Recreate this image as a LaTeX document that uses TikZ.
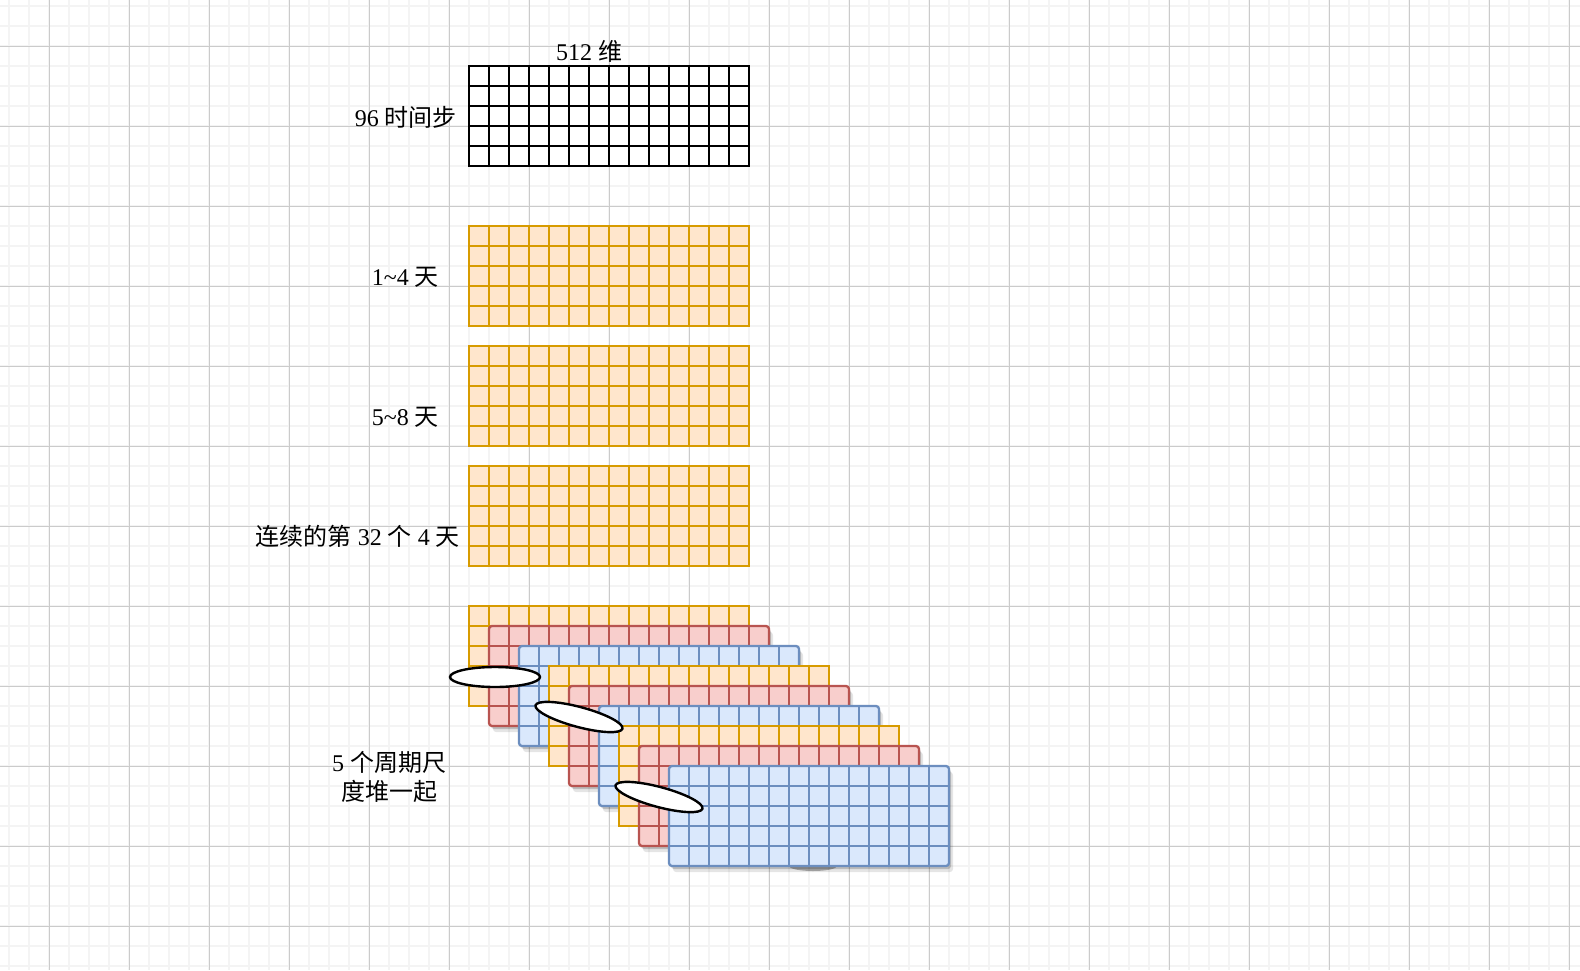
\documentclass[tikz,border=0pt]{standalone}
\usepackage{fontspec}
\setmainfont{Liberation Serif}
\newfontfamily\cjk{Noto Sans CJK SC}
\usetikzlibrary{shadows}

\definecolor{orangefond}{HTML}{FFE6CC}
\definecolor{orangetrait}{HTML}{D79B00}
\definecolor{rougefond}{HTML}{F8CECC}
\definecolor{rougetrait}{HTML}{B85450}
\definecolor{bleufond}{HTML}{DAE8FC}
\definecolor{bleutrait}{HTML}{6C8EBF}
\definecolor{grillemineure}{HTML}{F4F4F4}
\definecolor{grillemajeure}{HTML}{CBCBCB}

% une grille de 14 x 5 cases : x, y, cadre, couleur des traits
\newcommand{\grille}[4]{%
	\path[#3] (#1,#2) rectangle ++(280,100);
	\foreach \i in {1,...,13} \draw[#4] (#1+20*\i,#2) -- ++(0,100);
	\foreach \j in {1,...,4} \draw[#4] (#1,#2+20*\j) -- ++(280,0);
}

\begin{document}
\begin{tikzpicture}[x=0.5pt, y=-0.5pt, line width=1.15pt,
		every node/.style={inner sep=0pt, font=\fontsize{12}{14.5}\selectfont},
		ombre/.style={drop shadow={shadow xshift=1pt, shadow yshift=-1.5pt, opacity=0.18, fill=black},
			drop shadow={shadow xshift=2pt, shadow yshift=-3pt, opacity=0.1, fill=black}},
		noir/.style={draw=black, fill=white},
		orange/.style={draw=orangetrait, fill=orangefond},
		rouge/.style={draw=rougetrait, fill=rougefond, rounded corners=1.5pt, ombre},
		bleu/.style={draw=bleutrait, fill=bleufond, rounded corners=1.5pt, ombre},
		anneau/.style={draw=black, fill=white, line width=1.2pt}]

		\useasboundingbox (0,0) rectangle (1580,970);

		% Fond
		\fill[white] (0,0) rectangle (1580,970);
		\foreach \x in {9,29,...,1569} \draw[grillemineure, line width=1pt] (\x,0) -- (\x,970);
		\foreach \y in {6,26,...,966} \draw[grillemineure, line width=1pt] (0,\y) -- (1580,\y);
		\foreach \x in {49,129,...,1569} \draw[grillemajeure, line width=0.5pt] (\x,0) -- (\x,970);
		\foreach \y in {46,126,...,926} \draw[grillemajeure, line width=0.5pt] (0,\y) -- (1580,\y);

		% Grilles
		\grille{469}{66}{noir}{black}
		\foreach \y in {226,346,466} \grille{469}{\y}{orange}{orangetrait};

		% Empilement
		\foreach \x/\y/\cadre/\trait in {469/606/orange/orangetrait, 489/626/rouge/rougetrait,
				519/646/bleu/bleutrait, 549/666/orange/orangetrait, 569/686/rouge/rougetrait,
				599/706/bleu/bleutrait, 619/726/orange/orangetrait, 639/746/rouge/rougetrait}
			\grille{\x}{\y}{\cadre}{\trait};
		\fill[black, opacity=0.3] (813,866) ellipse (24 and 5);
		\grille{669}{766}{bleu}{bleutrait}

		% Ellipses
		\draw[anneau] (495,677) ellipse (45 and 10);
		\draw[anneau, rotate around={-15:(579,717)}] (579,717) ellipse (45 and 10);
		\draw[anneau, rotate around={-15:(659,797)}] (659,797) ellipse (45 and 10);

		% Textes
		\node at (589,51.5) (dim) {512 {\cjk 维}};
		\node[anchor=east] at (458,117.5) (pas) {96 {\cjk 时间步}};
		\node[anchor=east] at (440,277.5) (j14) {1\textasciitilde 4 {\cjk 天}};
		\node[anchor=east] at (440,417) (j58) {5\textasciitilde 8 {\cjk 天}};
		\node[anchor=east] at (461,536) (j32) {{\cjk 连续的第} 32 {\cjk 个} 4 {\cjk 天}};
		\node[align=center] at (389,777) (empile) {5 {\cjk 个周期尺}\\{\cjk 度堆一起}};

\end{tikzpicture}
\end{document}
